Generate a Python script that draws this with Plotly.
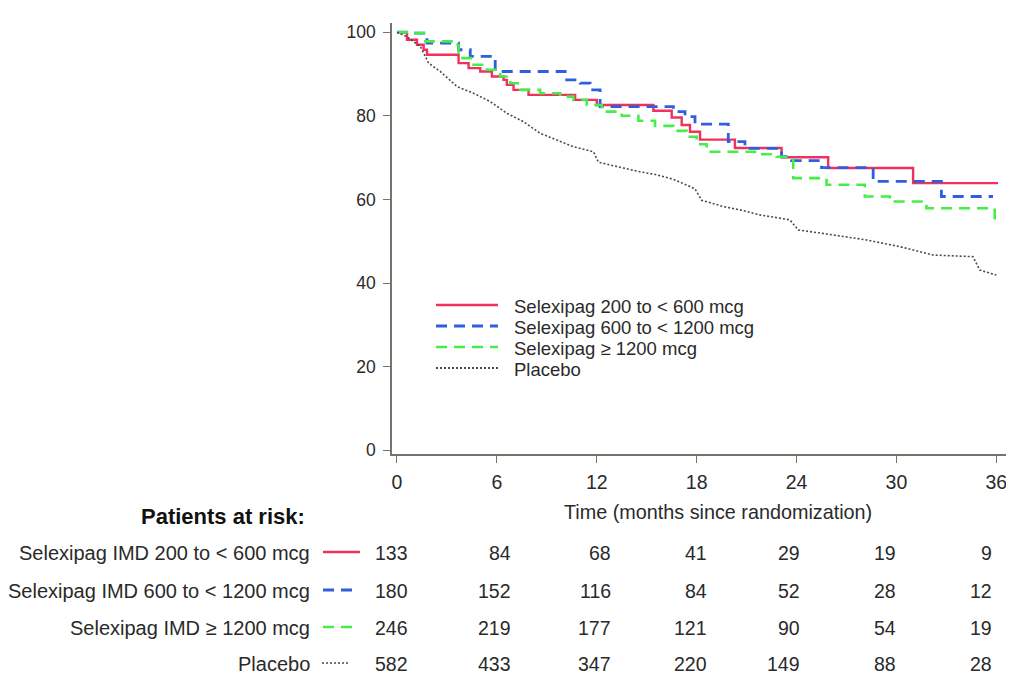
import plotly.graph_objects as go

# ---------------- data ----------------
t_red = [0, 0.6, 1.2, 1.6, 1.8, 3.7, 4.3, 5.0, 5.7, 6.4, 6.6, 7.0, 7.9, 10.7, 12.0, 15.4, 16.5, 17.1, 17.6, 18.2, 20.3, 23.1, 25.9, 31.0, 36.1]
s_red = [100, 98.2, 97.0, 95.8, 94.6, 92.6, 91.4, 90.6, 89.4, 88.6, 87.4, 86.2, 85.0, 83.8, 82.6, 81.2, 79.6, 77.8, 76.2, 74.3, 72.3, 70.1, 67.5, 63.9, 63.9]

t_blue = [0, 0.8, 1.8, 3.7, 4.4, 5.9, 10.1, 11.0, 11.6, 12.2, 16.6, 17.3, 17.9, 19.9, 20.9, 23.1, 23.7, 25.5, 28.6, 32.7, 35.8]
s_blue = [100, 99.8, 97.4, 95.8, 94.2, 90.6, 88.6, 87.8, 86.2, 82.2, 81.0, 79.8, 78.0, 73.8, 72.2, 70.2, 69.3, 67.6, 64.3, 60.7, 60.7]

t_green = [0, 0.9, 1.7, 3.5, 3.7, 4.6, 5.4, 6.2, 6.8, 7.4, 8.6, 9.8, 10.6, 11.4, 12.3, 13.5, 14.5, 15.5, 16.6, 17.4, 18.0, 18.6, 21.5, 22.8, 23.8, 25.8, 28.1, 29.6, 31.8, 35.9, 36.2]
s_green = [100, 99.8, 97.8, 97.0, 93.8, 92.2, 91.0, 89.4, 87.8, 86.2, 85.4, 84.6, 83.8, 82.6, 81.0, 80.0, 78.8, 77.6, 76.4, 75.0, 73.2, 71.4, 70.8, 70.2, 65.1, 63.5, 60.7, 59.5, 57.9, 55.5, 55.5]

t_placebo = [0, 0.6, 1.4, 1.9, 2.6, 3.6, 4.6, 5.6, 6.6, 7.6, 8.6, 9.6, 10.6, 11.8, 12.1, 13.6, 14.6, 15.6, 16.6, 17.6, 17.9, 18.3, 19.6, 20.6, 21.8, 23.6, 24.1, 26.2, 28.2, 30.2, 32.2, 34.6, 35.0, 36.0]
s_placebo = [100, 98.9, 96.6, 92.6, 90.6, 87.0, 85.4, 83.4, 80.6, 78.6, 75.8, 74.2, 72.6, 71.4, 68.9, 67.5, 66.6, 65.9, 64.8, 63.1, 62.5, 59.8, 58.3, 57.5, 56.3, 55.1, 52.7, 51.5, 50.3, 48.7, 46.7, 46.3, 43.1, 41.9]

legend_names = ["Selexipag 200 to &lt; 600 mcg", "Selexipag 600 to &lt; 1200 mcg",
                "Selexipag ≥ 1200 mcg", "Placebo"]
risk_labels = ["Selexipag IMD 200 to &lt; 600 mcg", "Selexipag IMD 600 to &lt; 1200 mcg",
               "Selexipag IMD ≥ 1200 mcg", "Placebo"]
risk_times = [0, 6, 12, 18, 24, 30, 36]
risk_red = [133, 84, 68, 41, 29, 19, 9]
risk_blue = [180, 152, 116, 84, 52, 28, 12]
risk_green = [246, 219, 177, 121, 90, 54, 19]
risk_placebo = [582, 433, 347, 220, 149, 88, 28]

x_ticks = [0, 6, 12, 18, 24, 30, 36]
y_ticks = [0, 20, 40, 60, 80, 100]

# ---------------- styles ----------------
FONT = "Liberation Sans, Arial, sans-serif"
TXT = "#2a2a2a"
AXC = "#74746a"
styles = [
    dict(color="#f2305e", width=2.4, dash="solid", shape="hv"),
    dict(color="#2f5ee0", width=2.8, dash="11px,7px", shape="hv"),
    dict(color="#45ee45", width=2.6, dash="11px,7px", shape="hv"),
    dict(color="#4a4a4a", width=1.6, dash="2px,2px", shape="linear"),
]

# the page body adds an 8px margin, so the figure is drawn 8px smaller and
# reference pixel positions are shifted by that offset
OFF = 8
W, H = 1014 - OFF, 677 - OFF
L, R, T, B = 392 - OFF, 4, 23 - OFF, 677 - 454
PW, PH = W - L - R, H - T - B

def px2x(px):
    return (px - OFF - L) / PW

def py2y(py):
    return (H - B - (py - OFF)) / PH

fig = go.Figure()
series = [(t_red, s_red), (t_blue, s_blue), (t_green, s_green), (t_placebo, s_placebo)]
for (tt, ss), st, nm in zip(series, styles, legend_names):
    fig.add_trace(go.Scatter(
        x=tt, y=ss, mode="lines", name=nm, showlegend=False,
        line=dict(color=st["color"], width=st["width"], dash=st["dash"], shape=st["shape"]),
        hoverinfo="skip"))

shapes = []
annotations = []

# in-plot legend
leg_rows_y = [305, 326, 347, 368]
for st, nm, ry in zip(styles, legend_names, leg_rows_y):
    shapes.append(dict(type="line", xref="paper", yref="paper",
                       x0=px2x(436), x1=px2x(498), y0=py2y(ry), y1=py2y(ry),
                       line=dict(color=st["color"], width=st["width"] if st["shape"] == "hv" else 1.8,
                                 dash=st["dash"])))
    annotations.append(dict(xref="paper", yref="paper", x=px2x(512), y=py2y(ry + 1),
                            text=nm, showarrow=False, xanchor="left", yanchor="middle",
                            font=dict(family=FONT, size=18.5, color=TXT)))

# x-axis title
annotations.append(dict(xref="paper", yref="paper", x=px2x(718), y=py2y(512),
                        text="Time (months since randomization)", showarrow=False,
                        xanchor="center", yanchor="middle",
                        font=dict(family=FONT, size=19.8, color=TXT)))

# patients at risk table
annotations.append(dict(xref="paper", yref="paper", x=px2x(223), y=py2y(516),
                        text="<b>Patients at risk:</b>", showarrow=False,
                        xanchor="center", yanchor="middle",
                        font=dict(family=FONT, size=22, color="#111111")))
row_y = [553, 591, 628, 664]
col_right = [410, 513, 613, 709, 802, 898, 994]
sample_x = [(323, 360), (323, 355), (323, 355), (322, 350)]
risk_rows = [risk_red, risk_blue, risk_green, risk_placebo]
for lab, st, ry, vals, (sx0, sx1) in zip(risk_labels, styles, row_y, risk_rows, sample_x):
    annotations.append(dict(xref="paper", yref="paper", x=px2x(312), y=py2y(ry),
                            text=lab, showarrow=False, xanchor="right", yanchor="middle",
                            font=dict(family=FONT, size=20, color=TXT)))
    shapes.append(dict(type="line", xref="paper", yref="paper",
                       x0=px2x(sx0), x1=px2x(sx1), y0=py2y(ry - 1), y1=py2y(ry - 1),
                       line=dict(color=st["color"],
                                 width=st["width"] if st["shape"] == "hv" else 1.6,
                                 dash=st["dash"])))
    for cx, v, tm in zip(col_right, vals, risk_times):
        annotations.append(dict(xref="paper", yref="paper", x=px2x(cx), y=py2y(ry),
                                text=str(v), showarrow=False, xanchor="right", yanchor="middle",
                                font=dict(family=FONT, size=19.5, color=TXT)))

axis_common = dict(showline=True, linecolor=AXC, linewidth=1.6, ticks="outside",
                   tickcolor=AXC, tickwidth=1.4, ticklen=7, showgrid=False,
                   zeroline=False, mirror=False)

fig.update_layout(
    width=W, height=H,
    margin=dict(l=L, r=R, t=T, b=B, pad=0),
    paper_bgcolor="white", plot_bgcolor="white",
    showlegend=False,
    xaxis=dict(range=[-0.3, 36.82], tickvals=x_ticks, ticktext=[str(v) for v in x_ticks],
               tickfont=dict(family=FONT, size=19.5, color=TXT), ticklabelstandoff=3,
               **axis_common),
    yaxis=dict(range=[-0.9, 102.2], tickvals=y_ticks, ticktext=[str(v) for v in y_ticks],
               tickfont=dict(family=FONT, size=17.5, color=TXT), ticklabelstandoff=4,
               **axis_common),
    shapes=shapes,
    annotations=annotations,
)

fig.write_html("out.html")
